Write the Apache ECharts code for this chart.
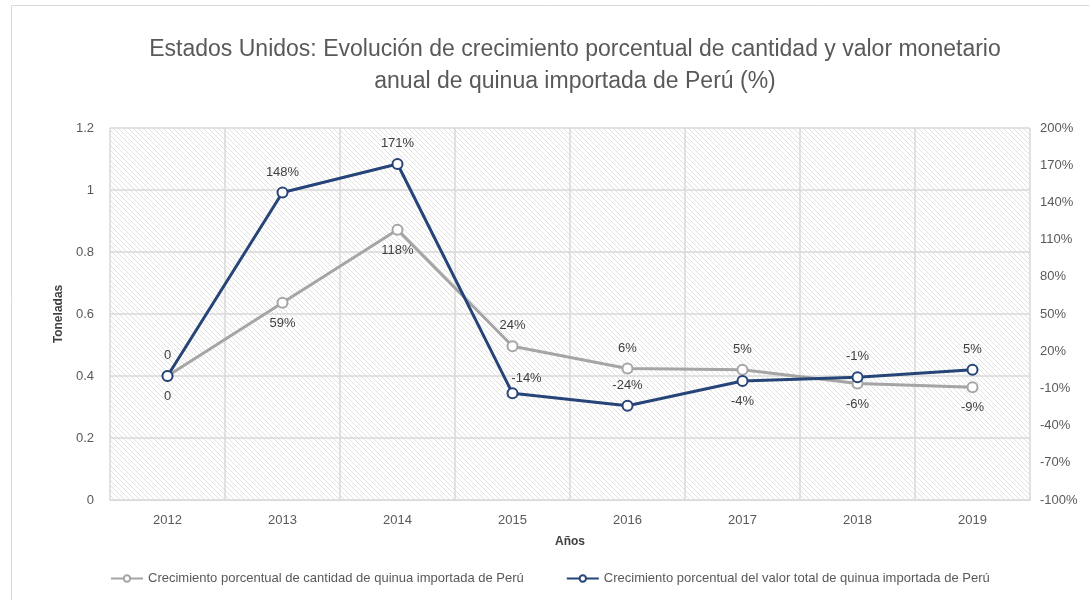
<!DOCTYPE html>
<html>
<head>
    <meta charset="UTF-8">
    <title>Quinua</title>
    <style>
        html, body { margin: 0; padding: 0; background: #fff; }
        #main { width: 1089px; height: 600px; }
    </style>
</head>
<body>
<div id="main"></div>
<script src="https://cdn.jsdelivr.net/npm/echarts@6/dist/echarts.min.js"></script>
<script type="text/javascript">
    // datos
    var years = ['2012', '2013', '2014', '2015', '2016', '2017', '2018', '2019'];
    var cantidad = [0, 59, 118, 24, 6, 5, -6, -9];
    var valor = [0, 148, 171, -14, -24, -4, -1, 5];
    var cantidadLabels = ['0', '59%', '118%', '24%', '6%', '5%', '-6%', '-9%'];
    var valorLabels = ['0', '148%', '171%', '-14%', '-24%', '-4%', '-1%', '5%'];
    var cantidadPos = ['bottom', 'bottom', 'bottom', 'top', 'top', 'top', 'bottom', 'bottom'];
    var valorPos = ['top', 'top', 'top', 'top', 'top', 'bottom', 'top', 'top'];
    var serieNames = ['Crecimiento porcentual de cantidad de quinua importada de Perú',
        'Crecimiento porcentual del valor total de quinua importada de Perú'];

    // fondo rayado
    function hatch() {
        var c = document.createElement('canvas');
        c.width = 5; c.height = 5;
        var ctx = c.getContext('2d');
        ctx.fillStyle = '#ffffff';
        ctx.fillRect(0, 0, 5, 5);
        ctx.strokeStyle = '#e2e2e2';
        ctx.lineWidth = 1;
        ctx.beginPath();
        ctx.moveTo(-1, -1); ctx.lineTo(6, 6);
        ctx.moveTo(-1, 4); ctx.lineTo(1, 6);
        ctx.moveTo(4, -1); ctx.lineTo(6, 1);
        ctx.stroke();
        return c;
    }

    function buildData(vals, labels, pos) {
        return vals.map(function (v, i) {
            var lab = {position: pos[i], formatter: labels[i]};
            if (labels[i] === '-14%') {
                lab.offset = [14, 6];
            }
            return {value: v, label: lab};
        });
    }

    var font = 'Liberation Sans';
    var mCharts = echarts.init(document.getElementById('main'));
    var mOptions = {
        backgroundColor: '#fff',
        textStyle: {fontFamily: font},
        graphic: [{
            type: 'rect',
            shape: {x: 11.5, y: 5.5, width: 1200, height: 700},
            style: {fill: 'none', stroke: '#d9d9d9', lineWidth: 1},
            silent: true
        }],
        title: {
            text: 'Estados Unidos: Evolución de crecimiento porcentual de cantidad y valor monetario\nanual de quinua importada de Perú (%)',
            left: 570,
            top: 29,
            textAlign: 'center',
            textStyle: {color: '#595959', fontSize: 23, fontWeight: 'normal', lineHeight: 32, fontFamily: font}
        },
        legend: {
            bottom: 10,
            left: 105,
            itemGap: 42,
            itemWidth: 32,
            itemHeight: 8,
            textStyle: {color: '#595959', fontSize: 13},
            data: serieNames
        },
        grid: {
            left: 110,
            right: 59,
            top: 128,
            bottom: 100,
            show: true,
            borderWidth: 0,
            backgroundColor: {image: hatch(), repeat: 'repeat'}
        },
        xAxis: {
            type: 'category',
            data: years,
            name: 'Años',
            nameLocation: 'middle',
            nameGap: 36,
            nameTextStyle: {fontWeight: 'bold', color: '#404040', fontSize: 12},
            axisLine: {lineStyle: {color: '#d9d9d9', width: 1}},
            axisTick: {show: false},
            axisLabel: {color: '#595959', fontSize: 13, margin: 14},
            splitLine: {show: true, lineStyle: {color: '#d9d9d9', width: 1.5}}
        },
        yAxis: [{
            type: 'value',
            min: 0,
            max: 1.2,
            interval: 0.2,
            name: 'Toneladas',
            nameLocation: 'middle',
            nameGap: 40,
            nameTextStyle: {fontWeight: 'bold', color: '#404040', fontSize: 12},
            axisLine: {show: false},
            axisTick: {show: false},
            axisLabel: {color: '#595959', fontSize: 13, margin: 16},
            splitLine: {lineStyle: {color: '#d9d9d9', width: 1.5}}
        }, {
            type: 'value',
            min: -100,
            max: 200,
            interval: 30,
            position: 'right',
            axisLine: {show: false},
            axisTick: {show: false},
            axisLabel: {color: '#595959', fontSize: 13, margin: 10, formatter: '{value}%'},
            splitLine: {show: false}
        }],
        series: [{
            name: serieNames[0],
            type: 'line',
            yAxisIndex: 1,
            data: buildData(cantidad, cantidadLabels, cantidadPos),
            symbol: 'circle',
            symbolSize: 10,
            color: '#a5a5a5',
            lineStyle: {width: 3, color: '#a5a5a5'},
            itemStyle: {color: '#fff', borderColor: '#a5a5a5', borderWidth: 2},
            label: {show: true, color: '#404040', fontSize: 13, distance: 8},
            z: 2
        }, {
            name: serieNames[1],
            type: 'line',
            yAxisIndex: 1,
            data: buildData(valor, valorLabels, valorPos),
            symbol: 'circle',
            symbolSize: 10,
            color: '#264478',
            lineStyle: {width: 3, color: '#264478'},
            itemStyle: {color: '#fff', borderColor: '#264478', borderWidth: 2},
            label: {show: true, color: '#404040', fontSize: 13, distance: 8},
            z: 3
        }]
    };
    mCharts.setOption(mOptions);
</script>
</body>
</html>
